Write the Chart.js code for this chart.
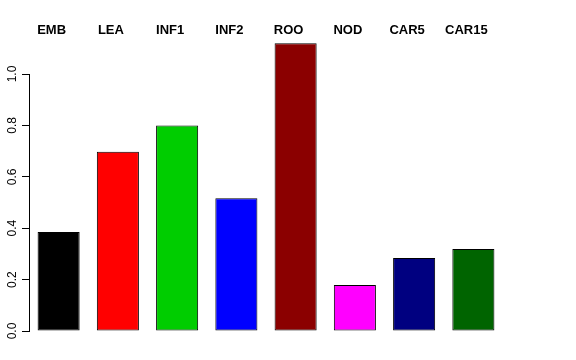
<!DOCTYPE html>
<html>
<head>
<meta charset="utf-8">
<script src="https://cdn.jsdelivr.net/npm/chart.js@4"></script>
<style>
  html, body { margin: 0; padding: 0; background: #fff; }
  #wrap { width: 576px; height: 360px; }
</style>
</head>
<body>
<div id="wrap"><canvas id="c"></canvas></div>
<script>
const tissues = ['EMB', 'LEA', 'INF1', 'INF2', 'ROO', 'NOD', 'CAR5', 'CAR15'];
const values  = [0.385, 0.697, 0.80, 0.517, 1.12, 0.179, 0.284, 0.319];
const colours = ['#000000', '#FF0000', '#00CD00', '#0000FF', '#8B0000', '#FF00FF', '#000080', '#006400'];
const yTicks  = [0, 0.2, 0.4, 0.6, 0.8, 1.0];

const FONT = '"Liberation Sans", Arial, sans-serif';

// tissue names above the bars + rotated y tick labels, R style
const rStyle = {
  id: 'rStyle',
  afterDraw(chart){
    const ctx = chart.ctx, x = chart.scales.x, y = chart.scales.y;
    ctx.save();
    ctx.fillStyle = '#000';
    ctx.font = 'bold 13px ' + FONT;
    ctx.textAlign = 'center';
    ctx.textBaseline = 'middle';
    tissues.forEach((t, i) => ctx.fillText(t, x.getPixelForValue(i) - 7, 30));

    ctx.font = '12px ' + FONT;
    yTicks.forEach(v => {
      ctx.save();
      ctx.translate(13, y.getPixelForValue(v));
      ctx.rotate(-Math.PI / 2);
      ctx.fillText(v.toFixed(1), 0, 0);
      ctx.restore();
    });
    ctx.restore();
  }
};

new Chart(document.getElementById('c'), {
  type: 'bar',
  data: {
    labels: tissues,
    datasets: [{
      data: values,
      backgroundColor: colours,
      borderColor: '#000',
      borderWidth: 1,
      borderSkipped: false,
      categoryPercentage: 1,
      barPercentage: 0.71,
      clip: false
    }]
  },
  options: {
    responsive: true,
    maintainAspectRatio: false,
    animation: false,
    layout: { padding: { top: 74, right: 73, bottom: 29, left: 22 } },
    plugins: { legend: { display: false }, tooltip: { enabled: false } },
    scales: {
      x: { display: false, offset: true },
      y: {
        min: 0, max: 1.0,
        afterBuildTicks(s){ s.ticks = yTicks.map(v => ({ value: v })); },
        grid: { drawOnChartArea: false, color: '#000', tickLength: 7, tickColor: '#000' },
        border: { color: '#000', width: 1 },
        ticks: { display: false }
      }
    }
  },
  plugins: [rStyle]
});
</script>
</body>
</html>
